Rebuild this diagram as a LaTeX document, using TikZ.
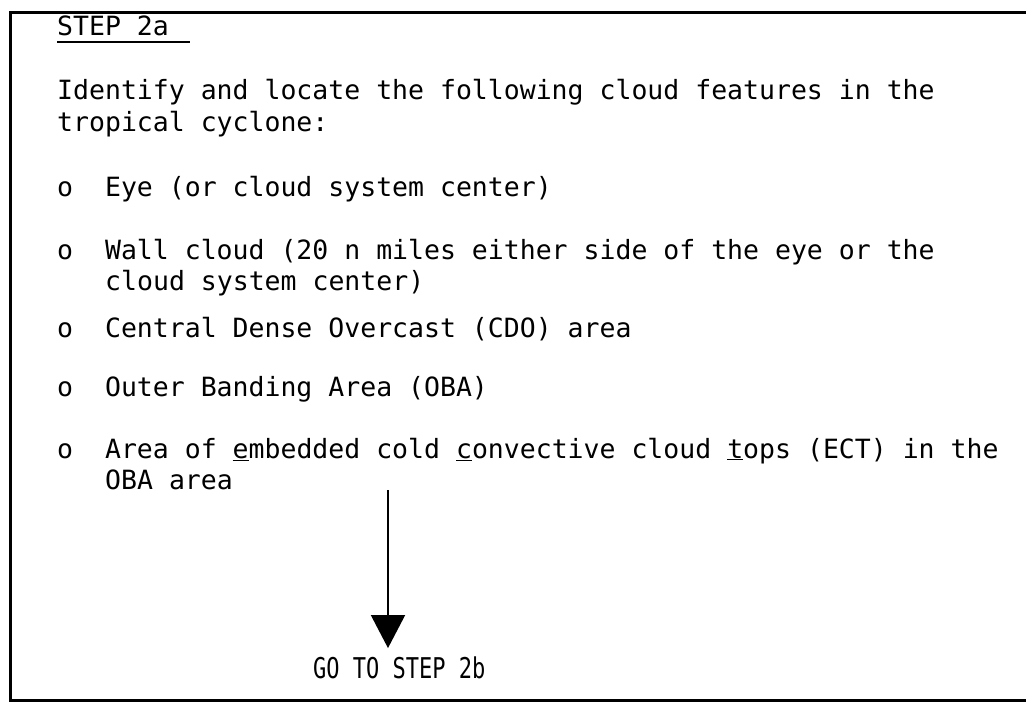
\documentclass[tikz,border=0pt]{standalone}
\usepackage{fontspec}
\setmonofont{DejaVu Sans Mono}
\usetikzlibrary{arrows.meta,calc}
\tikzset{typed/.style={font=\ttfamily\fontsize{26.5}{32}\selectfont, anchor=base west, inner sep=0pt}}

\begin{document}
\begin{tikzpicture}[x=1pt, y=-1pt, >=Stealth]
\useasboundingbox (0,0) rectangle (1026,702);
\draw[line width=3pt] (1026,12) -- (10,12) -- (10,700) -- (1026,700);

\node[typed] (title) at (57,35) {STEP 2a};
\draw[line width=1.8pt] ($(title.base west)+(0,7)$) -- ++(133,0);

\node[typed] (intro1) at (57,99) {Identify and locate the following cloud features in the};
\node[typed] (intro2) at (57,131) {tropical cyclone:};

\node[typed] (eye) at (57,196) {o\ \ Eye (or cloud system center)};
\node[typed] (wall1) at (57,259) {o\ \ Wall cloud (20 n miles either side of the eye or the};
\node[typed] (wall2) at (105,290) {cloud system center)};
\node[typed] (cdo) at (57,337) {o\ \ Central Dense Overcast (CDO) area};
\node[typed] (oba) at (57,396) {o\ \ Outer Banding Area (OBA)};
\node[typed] (ect1) at (57,458) {o\ \ Area of \underline{e}mbedded cold \underline{c}onvective cloud \underline{t}ops (ECT) in the};
\node[typed] (ect2) at (105,489) {OBA area};

\coordinate (from) at (388,490);
\node[typed, font=\ttfamily\fontsize{22}{26}\selectfont] (goto) at (313,678) {\scalebox{1}[1.3]{GO TO STEP 2b}};
\draw[-{Triangle[width=34pt,length=33pt]}, line width=1.8pt] (from) -- ($(from |- goto.north)+(0,-8)$);

\end{tikzpicture}
\end{document}
